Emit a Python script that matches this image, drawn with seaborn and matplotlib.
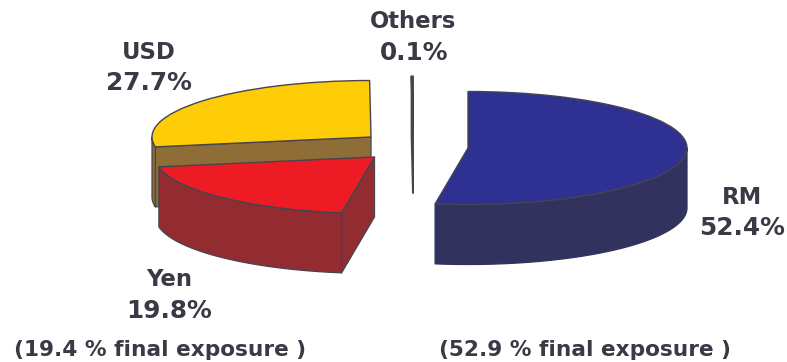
import numpy as np
import matplotlib
matplotlib.use("Agg")
import matplotlib.pyplot as plt
from matplotlib.patches import Polygon
import seaborn as sns

# Currency split of the exposure
categories = ["RM", "Yen", "USD", "Others"]
shares = [52.4, 19.8, 27.7, 0.1]
final_exposure_notes = ["(19.4 % final exposure )", "(52.9 % final exposure )"]

W, H = 787, 362
RX, RY = 219.0, 56.5      # horizontal and vertical pie radii, in pixels
DEPTH = 60.0              # extrusion height, in pixels

top_colors = {"RM": "#2E3192", "Yen": "#ED1C24", "USD": "#FFCC08", "Others": "#33333F"}
wall_colors = {"RM": "#32325F", "Yen": "#922C31", "USD": "#8F6D37", "Others": "#33333F"}
apex_px = {"RM": (468, 148), "Yen": (374.5, 157), "USD": (371, 137), "Others": (413, 133)}
draw_order = ["USD", "Others", "Yen", "RM"]
cut_face_slices = {"USD", "Yen", "Others"}   # slices whose trailing cut side faces the viewer
EDGE = "#45454F"
INK = "#3A3A46"

sns.set_theme(style="white")
plt.rcParams["font.family"] = ["DejaVu Sans"]


def to_data(px, py):
    return px / RX, (H - py) / RY


fig, ax = plt.subplots(figsize=(W / 100, H / 100), dpi=100)
fig.subplots_adjust(0, 0, 1, 1)
palette = sns.color_palette([top_colors[c] for c in categories])


def add_wall(points, color, z, edge=EDGE, lw=0.9):
    ax.add_patch(Polygon(points, closed=True, facecolor=color, edgecolor=edge,
                         linewidth=lw, zorder=z, joinstyle="round"))


for order, name in enumerate(draw_order):
    center = to_data(*apex_px[name])
    thin = name == "Others"
    wedges, _ = ax.pie(shares, colors=palette, startangle=90, counterclock=False,
                       center=center, radius=1.0,
                       wedgeprops={"edgecolor": EDGE, "linewidth": 1.4 if thin else 1.0})
    idx = categories.index(name)
    for i, w in enumerate(wedges):
        if i != idx:
            w.remove()
    wedge = wedges[idx]
    t1, t2 = wedge.theta1 % 360, wedge.theta2 % 360
    if t2 <= t1:
        t2 += 360
    z = 2 + order * 3
    drop = DEPTH / RY
    cx, cy = center

    # Cut side seen from the front
    if name in cut_face_slices:
        c, s = np.cos(np.radians(t2)), np.sin(np.radians(t2))
        rim = (cx + c, cy + s)
        add_wall([center, rim, (rim[0], rim[1] - drop), (cx, cy - drop)],
                 wall_colors[name], z, lw=1.4 if thin else 0.9)

    # Outer rim wall, only where the rim faces the viewer
    lo, hi = max(t1, 180), min(t2, 360)
    if hi > lo:
        th = np.radians(np.linspace(lo, hi, 80))
        upper = np.column_stack([cx + np.cos(th), cy + np.sin(th)])
        lower = upper[::-1] - [0, drop]
        wall_edge = wall_colors[name] if name == "RM" else EDGE
        add_wall(np.vstack([upper, lower]), wall_colors[name], z + 1, edge=wall_edge)

    wedge.set_zorder(z + 2)

ax.set_aspect("auto")
ax.set_xlim(0, W / RX)
ax.set_ylim(0, H / RY)
ax.axis("off")

labels = [("Others", 413, 21), ("0.1%", 414, 53), ("USD", 149, 52), ("27.7%", 149, 83),
          ("RM", 742, 197), ("52.4%", 742, 228), ("Yen", 169, 280), ("19.8%", 169, 311)]
for text, px, py in labels:
    x, y = to_data(px, py)
    size = 17.8 if text.endswith("%") else 16.4
    ax.text(x, y, text, ha="center", va="center", fontsize=size, fontweight="bold",
            color=INK, zorder=30)

for text, px in zip(final_exposure_notes, (160, 585)):
    x, y = to_data(px, 350)
    ax.text(x, y, text, ha="center", va="center", fontsize=15.6, fontweight="bold",
            color=INK, zorder=30)

fig.savefig("out.png", dpi=100)
